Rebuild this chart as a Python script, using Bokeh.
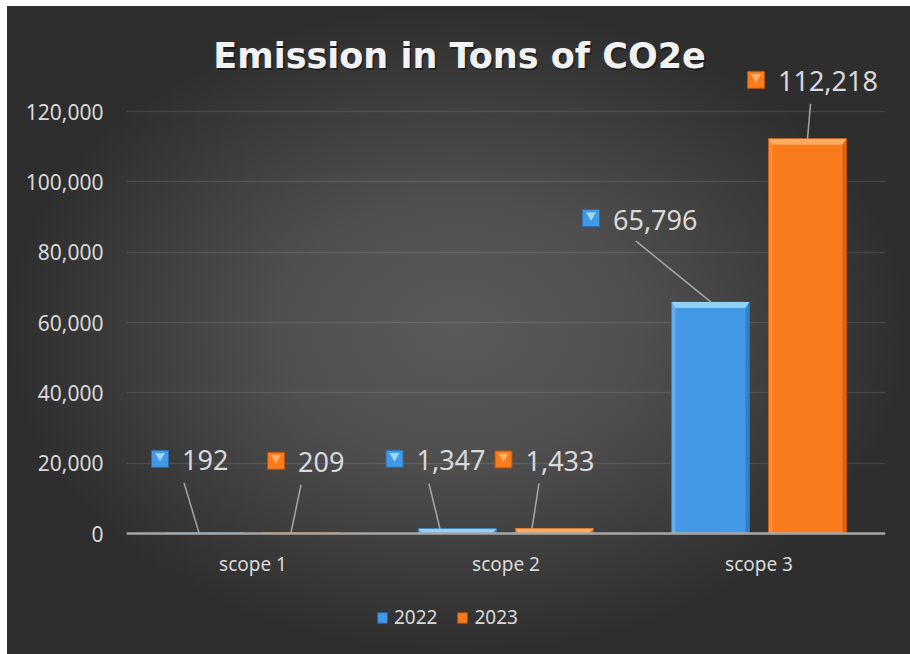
import numpy as np
from bokeh.plotting import figure
from bokeh.models import (FactorRange, Range1d, FixedTicker, NumeralTickFormatter,
                          Legend, LegendItem, Span)
from bokeh.core.properties import value
from bokeh.embed import file_html
from bokeh.resources import INLINE

# ---------------- data ----------------
scopes = ["scope 1", "scope 2", "scope 3"]
years = ["2022", "2023"]
emissions_2022 = [192, 1347, 65796]
emissions_2023 = [209, 1433, 112218]
y_tick_values = [0, 20000, 40000, 60000, 80000, 100000, 120000]
chart_title = "Emission in Tons of CO2e"

# ---------------- geometry (pixels) ----------------
WIDTH, HEIGHT = 903, 648
LEFT, RIGHT = 119, 25
BASE_FROM_TOP = 527          # baseline distance from the top of the plot area
GRID_SPAN = 422              # pixels between the 0 and the top gridline
VAL_PX = GRID_SPAN / y_tick_values[-1]
Y_START = -(HEIGHT - BASE_FROM_TOP) / VAL_PX
Y_END = BASE_FROM_TOP / VAL_PX
CAT_PX = (WIDTH - LEFT - RIGHT) / len(scopes)


def px_x(dx):
    return dx / CAT_PX


def px_y(dy):
    return dy / VAL_PX


BAR_SHIFT = px_x(48.5)
BAR_WIDTH = px_x(78)
BEVEL_H = 6
BEVEL_W = 4

TEXT = "#d9d9d9"
LEADER = "#a6a6a6"

series = [
    dict(year=years[0], values=emissions_2022, sign=-1,
         fill="#4499e6", edge="#2a6cae", light="#9ad8fa", dark="#2f78c0",
         key=[(-44.5, 74), (-63, 70), (-119.5, 84)],
         lead_start=[(-20.5, 50), (-28.5, 45), (-74.5, 61)],
         lead_end=[-5.5, -17.5, 0.5]),
    dict(year=years[1], values=emissions_2023, sign=1,
         fill="#fa7b1b", edge="#b5520e", light="#fdb067", dark="#cf5f10",
         key=[(-25.5, 72), (-51, 69), (-51.5, 59)],
         lead_start=[(-0.5, 48), (-15.5, 45), (3, 35)],
         lead_end=[-10.5, -22.5, 0]),
]

p = figure(width=WIDTH, height=HEIGHT, output_backend="svg", toolbar_location=None,
           x_range=FactorRange(factors=scopes, range_padding=0),
           y_range=Range1d(Y_START, Y_END),
           min_border_left=LEFT, min_border_right=RIGHT,
           min_border_top=0, min_border_bottom=0)
p.margin = (6, 0, 0, 7)
p.background_fill_alpha = 0
p.border_fill_alpha = 0
p.outline_line_color = None
p.styles = {"background": "radial-gradient(ellipse closest-side at 50% 50%, "
                          "#5a5a5a 0%, #4f4f4f 40%, #2e2e2e 100%)"}

p.xaxis.visible = False
p.xgrid.grid_line_color = None
p.ygrid.ticker = FixedTicker(ticks=y_tick_values)
p.ygrid.grid_line_color = "white"
p.ygrid.grid_line_alpha = 0.1
p.ygrid.grid_line_width = 1.5

ax = p.yaxis[0]
ax.ticker = FixedTicker(ticks=y_tick_values)
ax.formatter = NumeralTickFormatter(format="0,0")
ax.axis_line_color = None
ax.major_tick_line_color = None
ax.minor_tick_line_color = None
ax.major_tick_in = 0
ax.major_tick_out = 0
ax.major_label_standoff = 23
ax.major_label_text_font = "Noto Sans"
ax.major_label_text_font_size = "21px"
ax.major_label_text_color = TEXT

# baseline
p.add_layout(Span(location=0, dimension="width", line_color=LEADER, line_width=2.5))

centers = np.arange(len(scopes)) + 0.5
legend_items = []
for s in series:
    vals = np.array(s["values"], dtype=float)
    bx = centers + s["sign"] * BAR_SHIFT
    half = BAR_WIDTH / 2
    bar = p.vbar(x=bx, top=vals, bottom=0, width=BAR_WIDTH,
                 fill_color=s["fill"], line_color=s["edge"], line_width=1)

    # bevelled edges: light left side, shaded right side, light top face
    side = px_x(BEVEL_W)
    p.vbar(x=bx - half + side / 2, top=vals, bottom=0, width=side,
           fill_color=s["light"], fill_alpha=0.35, line_color=None)
    p.vbar(x=bx + half - side / 2, top=vals, bottom=0, width=side,
           fill_color=s["dark"], fill_alpha=0.8, line_color=None)
    h = np.minimum(px_y(BEVEL_H), vals)
    xs = [[x - half, x + half, x + half - side, x - half + side] for x in bx]
    ys = [[t, t, t - hh, t - hh] for t, hh in zip(vals, h)]
    p.patches(xs=xs, ys=ys, fill_color=s["light"], fill_alpha=0.9, line_color=None)
    legend_items.append(LegendItem(label=s["year"], renderers=[bar]))

    # leader lines
    x0 = bx + px_x(np.array([d[0] for d in s["lead_start"]]))
    y0 = vals + px_y(np.array([d[1] for d in s["lead_start"]]))
    x1 = bx + px_x(np.array(s["lead_end"]))
    p.segment(x0=x0, y0=y0, x1=x1, y1=vals, line_color=LEADER, line_width=1.5)

    # label keys and values
    kx = bx + px_x(np.array([d[0] for d in s["key"]]))
    ky = vals + px_y(np.array([d[1] for d in s["key"]]))
    p.scatter(x=kx, y=ky, marker="square", size=17,
              fill_color=s["fill"], line_color=s["edge"], line_width=1)
    p.scatter(x=kx, y=ky + px_y(3), marker="inverted_triangle", size=10,
              fill_color=s["light"], line_color=None)
    p.text(x=kx + px_x(22), y=ky - px_y(1.5), text=[f"{v:,}" for v in s["values"]],
           text_font=value("Noto Sans"), text_font_size="27px", text_color=TEXT,
           text_align="left", text_baseline="middle")

# category labels
p.text(x=scopes, y=[px_y(-30)] * len(scopes), text=scopes,
       text_font=value("Noto Sans"), text_font_size="19px", text_color=TEXT,
       text_align="center", text_baseline="middle")

# title with a soft shadow
title_x = len(scopes) / 2 + px_x(-46.5)
title_y = px_y(BASE_FROM_TOP - 49)
title_style = dict(text_font=value("DejaVu Sans"), text_font_size="35px",
                   text_font_style="bold", text_align="center", text_baseline="middle")
p.text(x=[title_x + px_x(1.5)], y=[title_y - px_y(2)], text=[chart_title],
       text_color="black", text_alpha=0.4, **title_style)
p.text(x=[title_x], y=[title_y], text=[chart_title],
       text_color="#f2f2f2", **title_style)

legend = Legend(items=legend_items, orientation="horizontal", location=(250, 24),
                glyph_width=12, glyph_height=13, label_standoff=6, spacing=19,
                padding=0, margin=0, background_fill_alpha=0, border_line_alpha=0,
                label_text_font="Noto Sans", label_text_font_size="19px",
                label_text_color=TEXT)
p.add_layout(legend)

open("out.html", "w").write(file_html(p, INLINE))
